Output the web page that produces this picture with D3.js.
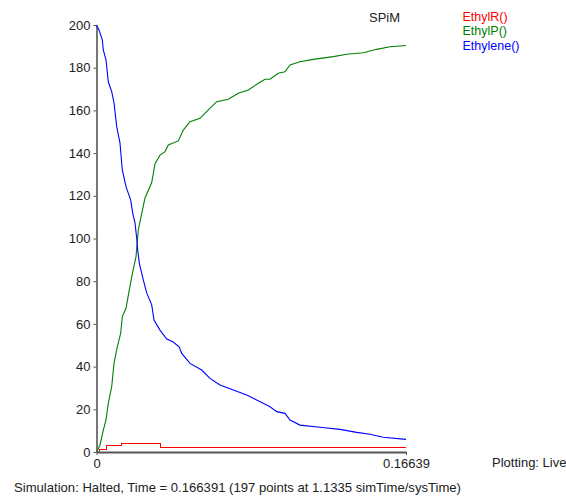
<!DOCTYPE html>
<html>
<head>
<meta charset="utf-8">
<script src="https://cdn.jsdelivr.net/npm/d3@7/dist/d3.min.js"></script>
<style>
  html, body { margin: 0; padding: 0; background: #fff; }
  svg { display: block; font-family: "Liberation Sans", Arial, sans-serif; }
</style>
</head>
<body>
<svg id="chart" width="566" height="497"></svg>
<script>
// ---- data ----
const seriesNames = ["EthylR()", "EthylP()", "Ethylene()"];
const seriesColors = ["#ff0000", "#008000", "#0000ff"];
const yTicks = [0, 20, 40, 60, 80, 100, 120, 140, 160, 180, 200];
const xTicks = [0, 0.16639];
const xTickLabels = ["0", "0.16639"];
const title = "SPiM";
const statusText = "Simulation: Halted, Time = 0.166391 (197 points at 1.1335 simTime/sysTime)";
const plottingText = "Plotting: Live";

// EthylR() (step)
const ethylRTime = [0, 0.0015, 0.00511, 0.01355, 0.03414, 0.16639];
const ethylRVal  = [0, 1, 3, 4, 2, 2];

// EthylP()
const ethylPTime = [0, 0.00188, 0.00366, 0.00511, 0.00634, 0.00817, 0.00941, 0.01118, 0.01301, 0.01387,
  0.01586, 0.01763, 0.01946, 0.02124, 0.02247, 0.02339, 0.02607, 0.02968, 0.03145, 0.03414,
  0.03683, 0.0386, 0.04398, 0.04666, 0.05027, 0.05564, 0.0601, 0.06462, 0.07086, 0.07623,
  0.08161, 0.08699, 0.09059, 0.09328, 0.09774, 0.10134, 0.10403, 0.1094, 0.11655, 0.1273,
  0.13451, 0.14343, 0.15064, 0.15779, 0.16639];
const ethylPVal = [0, 3.3, 10.3, 15, 22.8, 30.6, 41.5, 49.3, 55.7, 63.4,
  67.3, 75.9, 84.4, 91.5, 104, 107.9, 119, 126.2, 134.9, 139.1,
  140.7, 143.8, 145.7, 150.8, 154.7, 156.3, 160.2, 164.1, 165.2, 168,
  169.6, 172.7, 174.6, 174.6, 177.4, 178.1, 181.3, 182.8, 183.9, 185.2,
  186.3, 187, 188.6, 189.8, 190.4];

// Ethylene()
const ethyleneTime = [0, 0.00134, 0.00312, 0.00366, 0.00511, 0.00634, 0.00817, 0.00941, 0.01086, 0.01263,
  0.01387, 0.01586, 0.01839, 0.01946, 0.0207, 0.02161, 0.02215, 0.02301, 0.02516, 0.02699,
  0.02968, 0.03091, 0.03414, 0.03774, 0.04129, 0.04451, 0.0458, 0.05027, 0.05656, 0.06102,
  0.06639, 0.07354, 0.08075, 0.08612, 0.0915, 0.09328, 0.09688, 0.10134, 0.10403, 0.1094,
  0.12016, 0.13091, 0.13989, 0.14704, 0.15419, 0.16639];
const ethyleneVal = [200, 197.7, 193, 188.3, 183.6, 173.4, 168.8, 163.5, 152.4, 144.7,
  132.1, 124.3, 118, 111.9, 107.3, 100.2, 94.6, 88.5, 80.6, 74.5,
  68.9, 61.8, 57.1, 52.9, 51.5, 49.2, 46.2, 41.5, 38.4, 34.5,
  31.4, 29, 26.7, 24.4, 22, 21.2, 18.9, 18.1, 15, 12.6,
  11.6, 10.6, 9.2, 8.3, 6.9, 5.9];

// ---- drawing ----
const svg = d3.select("#chart");
const x = d3.scaleLinear().domain([0, 0.16639]).range([96.5, 406]);
const y = d3.scaleLinear().domain([0, 200]).range([452, 25]);

const zip = (t, v) => t.map((d, i) => ({ t: d, v: v[i] }));
const series = [
  { data: zip(ethylRTime, ethylRVal), curve: d3.curveStepAfter, crisp: true },
  { data: zip(ethylPTime, ethylPVal), curve: d3.curveLinear, crisp: false },
  { data: zip(ethyleneTime, ethyleneVal), curve: d3.curveLinear, crisp: false }
];

// y axis
const yAxis = svg.append("g")
  .attr("transform", "translate(96.5,0)")
  .call(d3.axisLeft(y).tickValues(yTicks).tickSize(3).tickSizeOuter(0).tickPadding(3));
yAxis.select(".domain").attr("stroke", "#777").attr("stroke-width", 2);
yAxis.selectAll(".tick line").attr("stroke", "#555");
yAxis.selectAll(".tick text").attr("fill", "#222").style("font-size", "13px")
  .style("font-family", '"Liberation Sans", Arial, sans-serif');

// lines
series.forEach((s, i) => {
  svg.append("path")
    .datum(s.data)
    .attr("fill", "none")
    .attr("stroke", seriesColors[i])
    .attr("stroke-width", s.crisp ? 1 : 1.1)
    .attr("shape-rendering", s.crisp ? "crispEdges" : "auto")
    .attr("d", d3.line().x(d => x(d.t)).y(d => y(d.v)).curve(s.curve));
});

// x axis
const xAxis = svg.append("g")
  .attr("transform", "translate(0,452)")
  .call(d3.axisBottom(x).tickValues(xTicks).tickFormat((d, i) => xTickLabels[i])
    .tickSize(3).tickSizeOuter(0).tickPadding(4));
xAxis.select(".domain").attr("stroke", "#555").attr("stroke-width", 2);
xAxis.selectAll(".tick line").attr("stroke", "#555");
xAxis.selectAll(".tick text").attr("fill", "#222").style("font-size", "13px")
  .style("font-family", '"Liberation Sans", Arial, sans-serif');

// title
svg.append("text").attr("x", 369).attr("y", 21.5).attr("fill", "#222")
  .style("font-size", "13px").text(title);

// legend
seriesNames.forEach((n, i) => {
  svg.append("text").attr("x", 462.5).attr("y", 20.5 + i * 14.5)
    .attr("fill", seriesColors[i]).style("font-size", "12.5px").text(n);
});

// status texts
svg.append("text").attr("x", 14).attr("y", 491.5).attr("fill", "#222")
  .style("font-size", "13.1px").text(statusText);
svg.append("text").attr("x", 492).attr("y", 467).attr("fill", "#222")
  .style("font-size", "13px").text(plottingText);
</script>
</body>
</html>
